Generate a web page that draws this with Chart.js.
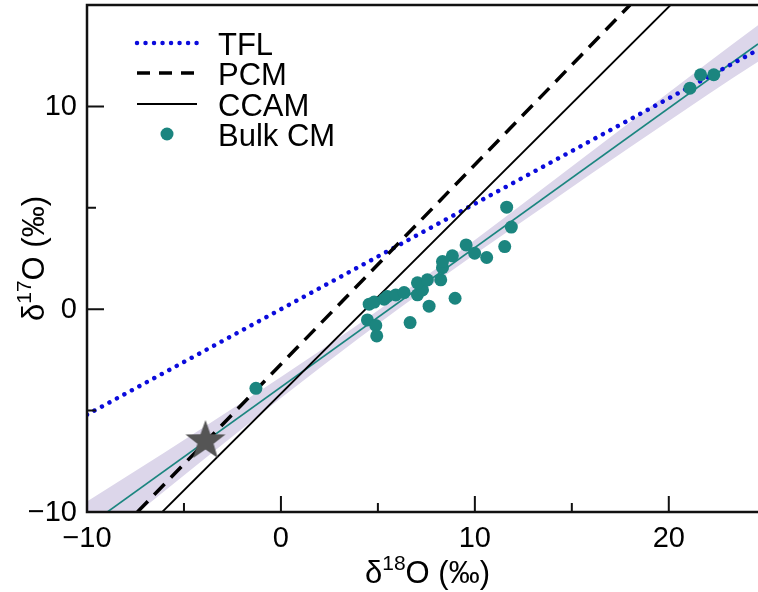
<!DOCTYPE html>
<html>
<head>
<meta charset="utf-8">
<script src="https://cdn.jsdelivr.net/npm/chart.js@4.4.1/dist/chart.umd.min.js"></script>
<style>
  html, body { margin: 0; padding: 0; background: #fff; }
</style>
</head>
<body>
<canvas id="graficoOxigenio" width="758" height="592"></canvas>
<script>
// Bulk CM chondrites, d18O and d17O (permil)
var bulkX = [-1.29, 4.46, 4.89, 4.94, 6.66, 4.55, 4.81, 5.32, 5.49, 5.92, 6.35,
             7.04, 7.30, 7.04, 7.55, 7.64, 8.24, 8.33, 8.33, 8.84, 8.98,
             9.55, 9.99, 10.61, 11.54, 11.64, 11.88, 21.09, 21.64, 22.32];
var bulkY = [-3.90, -0.53, -0.80, -1.32, -0.66, 0.25, 0.35, 0.49, 0.63, 0.70, 0.82,
             0.71, 0.95, 1.30, 1.45, 0.15, 1.45, 2.05, 2.35, 2.63, 0.54,
             3.17, 2.76, 2.55, 3.09, 5.03, 4.05, 10.90, 11.56, 11.56];

// reference lines (end points)
var tflX = [-10, 24.6];
var tflY = [-5.2, 12.79];
var pcmX = [-7.4, 18.0];
var pcmY = [-10, 15];
var ccamX = [-6.12, 20.09];
var ccamY = [-10, 15];

// regression through the bulk data and its confidence band
var fitX = [-8.95, 24.6];
var fitY = [-10, 13.08];
var bandX = [-10, -6, -2, 2, 6, 10, 14, 18, 22, 24.6];
var bandHigh = [-9.48, -7.06, -4.59, -2.06, 0.61, 3.41, 6.31, 9.22, 12.14, 14.0];
var bandLow = [-12.08, -8.96, -5.89, -2.90, -0.03, 2.71, 5.35, 7.98, 10.58, 12.2];

var estrelaX = [-3.89];
var estrelaY = [-6.4];

var xTicks = [-10, 0, 10, 20];
var xMinor = [-5, 5, 15];
var yTicks = [-10, 0, 10];
var yMinor = [-5, 5];

var TEAL = '#1b857f';
var AZUL = '#0b0bdc';
var FONTE = '"Liberation Sans", Arial, sans-serif';

function pares(xs, ys) {
    return xs.map(function (x, i) { return { x: x, y: ys[i] }; });
}

function rotulo(v) {
    return v < 0 ? '\u2212' + Math.abs(v) : String(v);
}

// filled five-pointed star used as point style
function criarEstrela(rExt, rInt, cor) {
    var c = document.createElement('canvas');
    var tam = Math.ceil(rExt * 2 + 4);
    c.width = tam;
    c.height = tam;
    var g = c.getContext('2d');
    g.translate(tam / 2, tam / 2 + rExt * 0.1);
    g.beginPath();
    for (var i = 0; i < 10; i++) {
        var r = i % 2 === 0 ? rExt : rInt;
        var a = -Math.PI / 2 + i * Math.PI / 5;
        g.lineTo(r * Math.cos(a), r * Math.sin(a));
    }
    g.closePath();
    g.fillStyle = cor;
    g.fill();
    return c;
}

// frame, inward tick marks, tick labels, axis titles and legend
var molduraPlugin = {
    id: 'moldura',
    afterDraw: function (chart) {
        var ctx = chart.ctx;
        var a = chart.chartArea;
        var sx = chart.scales.x;
        var sy = chart.scales.y;
        ctx.save();
        ctx.strokeStyle = '#111';
        ctx.lineWidth = 2.5;
        ctx.beginPath();
        ctx.moveTo(a.right + 2, a.top);
        ctx.lineTo(a.left, a.top);
        ctx.lineTo(a.left, a.bottom);
        ctx.lineTo(a.right + 2, a.bottom);
        ctx.stroke();

        ctx.lineWidth = 2;
        ctx.beginPath();
        xTicks.concat(xMinor).forEach(function (v) {
            var px = sx.getPixelForValue(v);
            var len = xTicks.indexOf(v) >= 0 ? 16 : 9;
            ctx.moveTo(px, a.bottom);
            ctx.lineTo(px, a.bottom - len);
        });
        yTicks.concat(yMinor).forEach(function (v) {
            var py = sy.getPixelForValue(v);
            var len = yTicks.indexOf(v) >= 0 ? 17 : 9;
            ctx.moveTo(a.left, py);
            ctx.lineTo(a.left + len, py);
        });
        ctx.stroke();

        // tick labels
        ctx.fillStyle = '#000';
        ctx.font = '29px ' + FONTE;
        ctx.textAlign = 'center';
        ctx.textBaseline = 'alphabetic';
        xTicks.forEach(function (v) {
            ctx.fillText(rotulo(v), sx.getPixelForValue(v), a.bottom + 35);
        });
        ctx.textAlign = 'right';
        ctx.textBaseline = 'middle';
        yTicks.forEach(function (v) {
            ctx.fillText(rotulo(v), a.left - 10, sy.getPixelForValue(v) + 1);
        });

        // axis titles with superscripts
        ctx.textAlign = 'left';
        ctx.textBaseline = 'alphabetic';
        function tituloSobrescrito(partes, cx, base) {
            var total = 0;
            partes.forEach(function (p) {
                ctx.font = p.tam + 'px ' + FONTE;
                total += ctx.measureText(p.t).width;
            });
            var x = cx - total / 2;
            partes.forEach(function (p) {
                ctx.font = p.tam + 'px ' + FONTE;
                ctx.fillText(p.t, x, base - p.sobe);
                x += ctx.measureText(p.t).width;
            });
        }
        tituloSobrescrito([
            { t: '\u03b4', tam: 31, sobe: 0 },
            { t: '18', tam: 21, sobe: 13 },
            { t: 'O (\u2030)', tam: 31, sobe: 0 }
        ], (a.left + a.right) / 2 + 5, 583);

        ctx.save();
        ctx.translate(44, (a.top + a.bottom) / 2);
        ctx.rotate(-Math.PI / 2);
        tituloSobrescrito([
            { t: '\u03b4', tam: 31, sobe: 0 },
            { t: '17', tam: 21, sobe: 13 },
            { t: 'O (\u2030)', tam: 31, sobe: 0 }
        ], 0, 0);
        ctx.restore();

        // legend
        var lx0 = 137, lx1 = 197, tx = 218;
        ctx.lineCap = 'round';
        ctx.strokeStyle = AZUL;
        ctx.lineWidth = 4.5;
        ctx.setLineDash([0.01, 8.5]);
        ctx.beginPath();
        ctx.moveTo(lx0, 43);
        ctx.lineTo(lx1, 43);
        ctx.stroke();

        ctx.lineCap = 'butt';
        ctx.strokeStyle = '#000';
        ctx.lineWidth = 3.5;
        ctx.setLineDash([13, 9]);
        ctx.beginPath();
        ctx.moveTo(lx0, 73);
        ctx.lineTo(lx1, 73);
        ctx.stroke();

        ctx.setLineDash([]);
        ctx.lineWidth = 1.8;
        ctx.beginPath();
        ctx.moveTo(lx0, 104);
        ctx.lineTo(lx1, 104);
        ctx.stroke();

        ctx.fillStyle = TEAL;
        ctx.beginPath();
        ctx.arc(167, 134, 6.5, 0, Math.PI * 2);
        ctx.fill();

        ctx.fillStyle = '#000';
        ctx.font = '31px ' + FONTE;
        ctx.fillText('TFL', tx, 55);
        ctx.fillText('PCM', tx, 85);
        ctx.fillText('CCAM', tx, 116);
        ctx.fillText('Bulk CM', tx, 146);
        ctx.restore();
    }
};

var ctx = document.getElementById('graficoOxigenio').getContext('2d');

var grafico = new Chart(ctx, {
    type: 'scatter',
    data: {
        datasets: [
            {
                label: 'star',
                data: pares(estrelaX, estrelaY),
                pointStyle: criarEstrela(21, 8.5, '#555555'),
                pointRadius: 21
            },
            {
                label: 'Bulk CM',
                data: pares(bulkX, bulkY),
                backgroundColor: TEAL,
                borderWidth: 0,
                pointRadius: 6.5
            },
            {
                label: 'CCAM',
                data: pares(ccamX, ccamY),
                showLine: true,
                borderColor: '#000',
                borderWidth: 1.8,
                pointRadius: 0
            },
            {
                label: 'PCM',
                data: pares(pcmX, pcmY),
                showLine: true,
                borderColor: '#000',
                borderWidth: 3.5,
                borderDash: [15, 9],
                pointRadius: 0
            },
            {
                label: 'TFL',
                data: pares(tflX, tflY),
                showLine: true,
                borderColor: AZUL,
                borderWidth: 4.5,
                borderDash: [0.01, 8.5],
                borderCapStyle: 'round',
                pointRadius: 0
            },
            {
                label: 'fit',
                data: pares(fitX, fitY),
                showLine: true,
                borderColor: TEAL,
                borderWidth: 1.6,
                pointRadius: 0
            },
            {
                label: 'band high',
                data: pares(bandX, bandHigh),
                showLine: true,
                borderWidth: 0,
                borderColor: 'rgba(0,0,0,0)',
                backgroundColor: '#dcd6ea',
                fill: '+1',
                cubicInterpolationMode: 'monotone',
                pointRadius: 0
            },
            {
                label: 'band low',
                data: pares(bandX, bandLow),
                showLine: true,
                borderWidth: 0,
                borderColor: 'rgba(0,0,0,0)',
                fill: false,
                cubicInterpolationMode: 'monotone',
                pointRadius: 0
            }
        ]
    },
    options: {
        responsive: false,
        animation: false,
        events: [],
        layout: {
            autoPadding: false,
            padding: { top: 5, right: 0, left: 0, bottom: 0 }
        },
        plugins: {
            legend: { display: false },
            tooltip: { enabled: false },
            title: { display: false }
        },
        scales: {
            x: {
                type: 'linear',
                min: -10,
                max: 24.6,
                grid: { display: false, drawTicks: false },
                border: { display: false },
                ticks: { display: false, padding: 0 },
                afterFit: function (s) { s.height = 80; }
            },
            y: {
                type: 'linear',
                min: -10,
                max: 15,
                grid: { display: false, drawTicks: false },
                border: { display: false },
                ticks: { display: false, padding: 0 },
                afterFit: function (s) { s.width = 87; }
            }
        }
    },
    plugins: [molduraPlugin]
});
</script>
</body>
</html>
